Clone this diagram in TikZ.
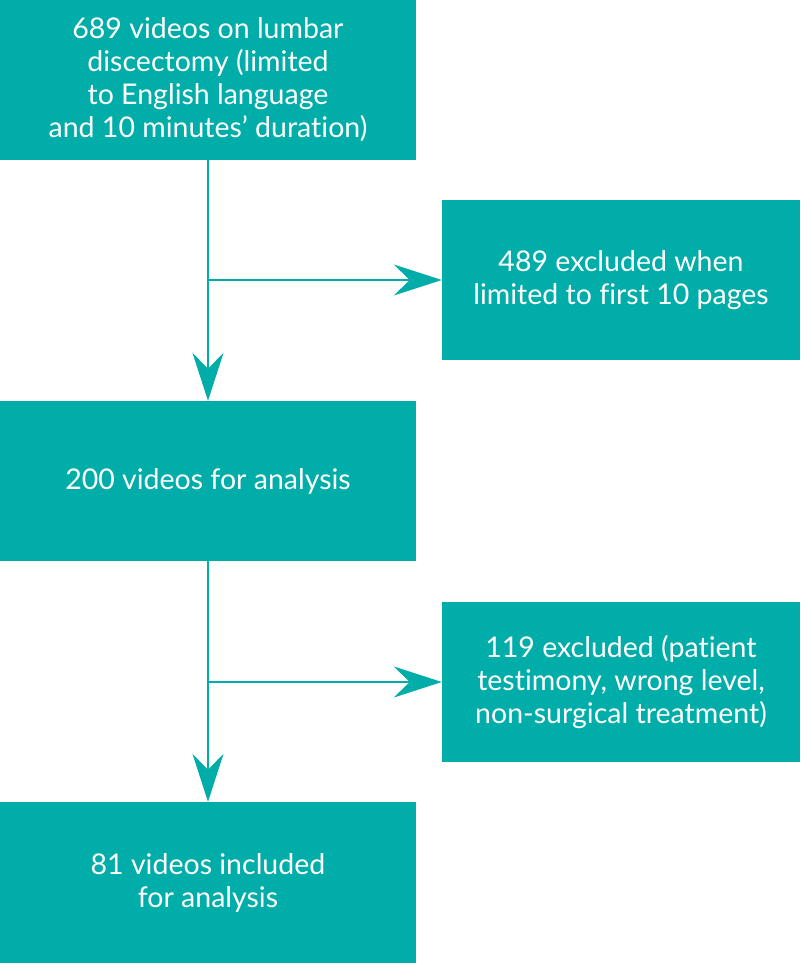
\documentclass[tikz,border=0pt]{standalone}
\usepackage{fontspec}
\setmainfont{Lato}[Ligatures={NoCommon,NoContextual}]
\usetikzlibrary{arrows.meta}
\definecolor{teal1}{HTML}{00ADA9}
\tikzset{
  box/.style={fill=teal1, draw=none, text=white, align=center, inner sep=0pt,
    font=\fontsize{28.5}{33}\selectfont},
  conn/.style={draw=teal1, line width=2.5pt,
    -{Stealth[length=48pt, width=31pt, inset=16pt]}}
}
\begin{document}
\begin{tikzpicture}[x=1pt,y=1pt]
\useasboundingbox (0,0) rectangle (800,-963);
\node[box, minimum width=416pt, minimum height=160pt] (b1) at (208,-80)
  {689 videos on lumbar\\discectomy (limited\\to English language\\and 10 minutes’ duration)};
\node[box, minimum width=358pt, minimum height=160pt] (b2) at (621,-280)
  {489 excluded when\\limited to first 10 pages};
\node[box, minimum width=416pt, minimum height=160pt] (b3) at (208,-481)
  {200 videos for analysis};
\node[box, minimum width=358pt, minimum height=160pt] (b4) at (621,-682)
  {119 excluded (patient\\testimony, wrong level,\\non-surgical treatment)};
\node[box, minimum width=416pt, minimum height=161pt] (b5) at (208,-882.5)
  {81 videos included\\for analysis};
\coordinate (j1) at (b1.south |- b2.west);
\coordinate (j2) at (b3.south |- b4.west);
\draw[conn] (b1.south) -- (b3.north);
\draw[conn] (j1) -- (b2.west);
\draw[conn] (b3.south) -- (b5.north);
\draw[conn] (j2) -- (b4.west);
\end{tikzpicture}
\end{document}
